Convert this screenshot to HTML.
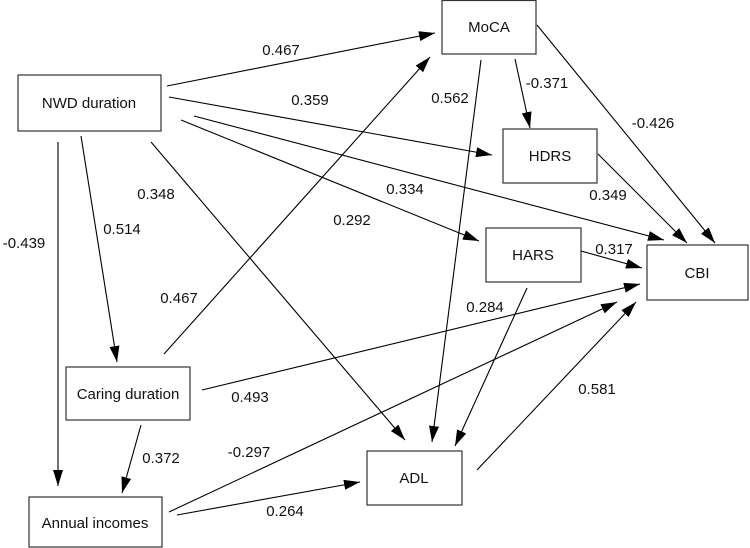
<!DOCTYPE html>
<html><head><meta charset="utf-8"><style>
html,body{margin:0;padding:0;background:#fff;}
svg{display:block;font-family:"Liberation Sans",Arial,sans-serif;}
text{font-size:15px;fill:#111;}
</style></head><body>
<svg width="750" height="548" viewBox="0 0 750 548" xmlns="http://www.w3.org/2000/svg">
<defs>
<marker id="a" viewBox="0 0 16 10" refX="16" refY="5" markerWidth="16" markerHeight="10" markerUnits="userSpaceOnUse" orient="auto">
<path d="M0,0 L16,5 L0,10 z" fill="#000"/>
</marker>
</defs>
<g fill="#fff" stroke="#333" stroke-width="1.2">
<rect x="18" y="75" width="143" height="56"/>
<rect x="442" y="0.5" width="94" height="53.5"/>
<rect x="503" y="129" width="94" height="54"/>
<rect x="486" y="228" width="95" height="54"/>
<rect x="647" y="245" width="101" height="55"/>
<rect x="66" y="367" width="124" height="53"/>
<rect x="29" y="497" width="133" height="50"/>
<rect x="367" y="451" width="95" height="54"/>
</g>
<g stroke="#000" stroke-width="1.1" marker-end="url(#a)" fill="none">
<line x1="167" y1="86" x2="435" y2="33"/>
<line x1="169" y1="97" x2="492" y2="155"/>
<line x1="194" y1="116" x2="664" y2="240"/>
<line x1="181" y1="120" x2="479" y2="241"/>
<line x1="151" y1="142" x2="405" y2="440"/>
<line x1="81" y1="136" x2="117" y2="362"/>
<line x1="58" y1="142" x2="58" y2="486"/>
<line x1="164" y1="354" x2="430" y2="57"/>
<line x1="202" y1="390" x2="640" y2="284"/>
<line x1="141" y1="425" x2="122" y2="493"/>
<line x1="169" y1="512" x2="617" y2="302"/>
<line x1="177" y1="515" x2="360" y2="482"/>
<line x1="481" y1="60" x2="432" y2="442"/>
<line x1="515" y1="59" x2="530" y2="128"/>
<line x1="537" y1="25" x2="715" y2="243"/>
<line x1="598" y1="154" x2="687" y2="243"/>
<line x1="581" y1="251" x2="642" y2="268"/>
<line x1="527" y1="288" x2="455" y2="446"/>
<line x1="477" y1="470" x2="636" y2="302"/>
</g>
<g text-anchor="middle">
<text x="89" y="108">NWD duration</text>
<text x="489" y="32">MoCA</text>
<text x="550" y="161">HDRS</text>
<text x="533" y="260">HARS</text>
<text x="697" y="278">CBI</text>
<text x="128" y="399">Caring duration</text>
<text x="95" y="528">Annual incomes</text>
<text x="414" y="483">ADL</text>
<text x="281" y="55">0.467</text>
<text x="310" y="105">0.359</text>
<text x="405" y="194">0.334</text>
<text x="352" y="225">0.292</text>
<text x="156" y="199">0.348</text>
<text x="122" y="234">0.514</text>
<text x="24" y="248">-0.439</text>
<text x="179" y="303">0.467</text>
<text x="250" y="402">0.493</text>
<text x="161" y="463">0.372</text>
<text x="249" y="457">-0.297</text>
<text x="285" y="516">0.264</text>
<text x="450" y="103">0.562</text>
<text x="547" y="88">-0.371</text>
<text x="653" y="128">-0.426</text>
<text x="608" y="200">0.349</text>
<text x="614" y="254">0.317</text>
<text x="485" y="312">0.284</text>
<text x="597" y="394">0.581</text>
</g>
</svg>
</body></html>
